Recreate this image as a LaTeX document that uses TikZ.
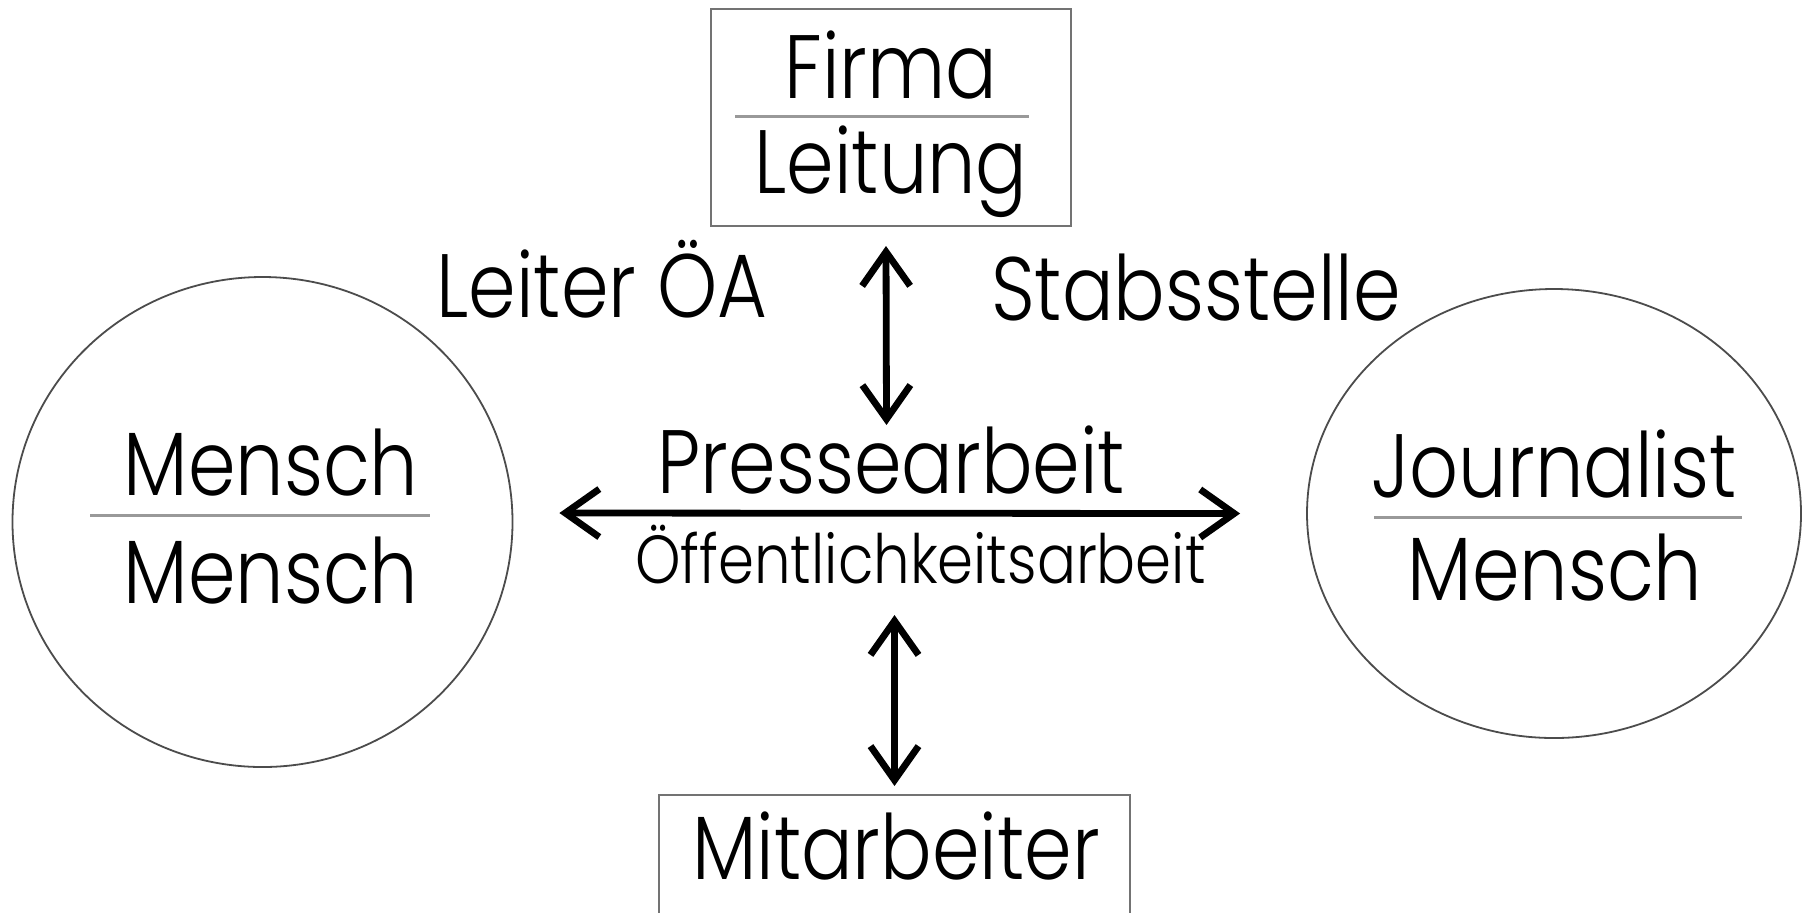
\documentclass[tikz,border=0pt]{standalone}
\usepackage{fontspec}
\newfontfamily\gothic{Poppins}[UprightFont=* Light, FakeStretch=0.85]
\usetikzlibrary{arrows.meta,shapes.geometric}

\begin{document}
\begin{tikzpicture}[x=0.5pt,y=-0.5pt,
    lbl/.style={inner sep=0pt, anchor=base, font=\gothic\fontsize{45}{50}\selectfont},
    smalllbl/.style={inner sep=0pt, anchor=base, font=\gothic\fontsize{34}{38}\selectfont},
    frame/.style={draw=black!55, line width=1pt, inner sep=0pt},
    ring/.style={draw=black!70, line width=0.9pt, ellipse, inner sep=0pt},
    divider/.style={draw=black!40, line width=1.5pt},
    dbl/.style={{Straight Barb[length=17pt,width=24pt]}-{Straight Barb[length=17pt,width=24pt]}, line width=3.4pt}]
                \clip (0,0) rectangle (1807,912);
                \fill[white] (0,0) rectangle (1807,912);
                \node[frame, minimum width=180pt, minimum height=108.5pt] (firma) at (891,117.5) {};
                \node[lbl] (firmaT) at (891,98) {Firma};
                \node[lbl] (leitung) at (891,193) {Leitung};
                \draw[divider] (735,116) -- (1029,116);
                \node[ring, minimum width=250pt, minimum height=245pt] (links) at (262.5,522) {};
                \node[lbl] (menschA) at (271,495) {Mensch};
                \node[lbl] (menschB) at (271,603) {Mensch};
                \draw[divider] (90,515) -- (430,515);
                \node[ring, minimum width=247pt, minimum height=224.5pt] (rechts) at (1554,513.5) {};
                \node[lbl] (journ) at (1554,497) {Journalist};
                \node[lbl] (menschC) at (1555,600) {Mensch};
                \draw[divider] (1374,517) -- (1742,517);
                \node[lbl] (leiter) at (602,317) {Leiter ÖA};
                \node[lbl] (stab) at (1196,320) {Stabsstelle};
                \node[lbl] (presse) at (891.5,493) {Pressearbeit};
                \node[smalllbl] (oeff) at (920.5,583) {Öffentlichkeitsarbeit};
                \node[frame, minimum width=235.5pt, minimum height=65pt] (mitarb) at (894.5,860) {};
                \node[lbl] (mitarbT) at (896,879) {Mitarbeiter};
                \draw[dbl] ([xshift=-2.5pt,yshift=-9.5pt]firma.south) -- ([xshift=-2.5pt,yshift=34pt]presse.base);
                \draw[dbl] ([xshift=23pt,yshift=4.5pt]links.east) -- ([xshift=-33pt]rechts.west);
                \draw[dbl] ([yshift=-16pt]mitarb.north |- oeff.base) -- ([yshift=4pt]mitarb.north);
            \end{tikzpicture}
\end{document}
